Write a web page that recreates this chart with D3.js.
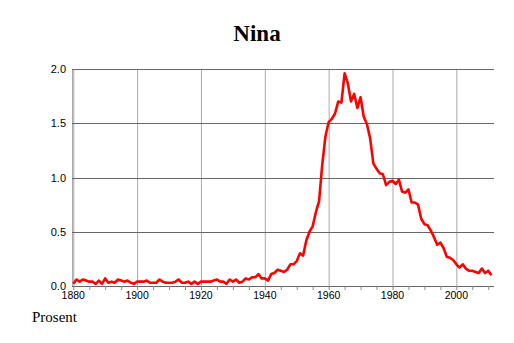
<!DOCTYPE html>
<html><head><meta charset="utf-8">
<script src="https://d3js.org/d3.v7.min.js"></script>
<style>body{margin:0;background:#fff}</style>
</head><body>
<script>
const startYear = 1880;
const values = [
0.02,0.06,0.04,0.06,0.05,0.04,0.04,0.02,0.05,0.02,
0.07,0.03,0.04,0.03,0.06,0.05,0.04,0.05,0.03,0.02,
0.04,0.04,0.04,0.05,0.03,0.03,0.03,0.06,0.04,0.03,
0.03,0.03,0.04,0.06,0.03,0.03,0.04,0.02,0.04,0.02,
0.04,0.04,0.04,0.04,0.05,0.06,0.04,0.04,0.02,0.06,
0.04,0.06,0.03,0.04,0.07,0.06,0.08,0.08,0.11,0.07,
0.07,0.05,0.11,0.12,0.15,0.14,0.13,0.15,0.20,0.20,
0.23,0.30,0.28,0.42,0.50,0.55,0.68,0.78,1.12,1.38,
1.51,1.54,1.59,1.70,1.69,1.96,1.87,1.70,1.77,1.64,
1.74,1.56,1.49,1.36,1.13,1.08,1.04,1.03,0.93,0.96,
0.97,0.94,0.98,0.87,0.86,0.89,0.77,0.77,0.75,0.62,
0.57,0.56,0.51,0.45,0.38,0.40,0.35,0.27,0.26,0.24,
0.20,0.17,0.20,0.16,0.14,0.14,0.13,0.12,0.16,0.12,
0.14,0.10
];
const years = values.map((v,i)=>startYear+i);
const xTicks = [1880,1900,1920,1940,1960,1980,2000];
const xMinor = d3.range(1880, 2015, 5);
const yTicks = [0.0,0.5,1.0,1.5,2.0];
const title = "Nina";
const yLabel = "Prosent";

const W=514,H=343;
const L=72,R=494,T=69,B=286;
const svg=d3.select("body").append("svg").attr("width",W).attr("height",H);
const x=d3.scaleLinear().domain([1879.6,2011.8]).range([L,R]);
const y=d3.scaleLinear().domain([0,2]).range([B,T]);

svg.append("g").selectAll("line").data(xTicks).join("line")
  .attr("x1",d=>x(d)+0.5).attr("x2",d=>x(d)+0.5).attr("y1",T).attr("y2",B)
  .attr("stroke","#aaa").attr("stroke-width",1);
svg.append("line").attr("x1",L+0.5).attr("x2",L+0.5).attr("y1",T).attr("y2",B)
  .attr("stroke","#aaa");
svg.append("g").selectAll("line").data(yTicks).join("line")
  .attr("x1",L).attr("x2",R).attr("y1",d=>Math.round(y(d))+0.5).attr("y2",d=>Math.round(y(d))+0.5)
  .attr("stroke","#666").attr("stroke-width",1);
svg.append("g").selectAll("line").data(xMinor).join("line")
  .attr("x1",d=>x(d)+0.5).attr("x2",d=>x(d)+0.5).attr("y1",B).attr("y2",B+4)
  .attr("stroke","#888");

const line=d3.line().x((d,i)=>x(years[i])).y(d=>y(d));
svg.append("path").datum(values).attr("d",line).attr("fill","none")
  .attr("stroke","#ff0000").attr("stroke-width",2.6).attr("stroke-linejoin","round");

svg.append("g").selectAll("text").data(xTicks).join("text")
  .attr("x",d=>x(d)).attr("y",B+13).attr("text-anchor","middle")
  .attr("font-family","Liberation Sans, Arial, sans-serif").attr("font-size",10.5)
  .text(d=>d);
svg.append("g").selectAll("text").data(yTicks).join("text")
  .attr("x",L-6).attr("y",d=>y(d)+4).attr("text-anchor","end")
  .attr("font-family","Liberation Sans, Arial, sans-serif").attr("font-size",11)
  .text(d=>d.toFixed(1));

svg.append("text").attr("x",257).attr("y",41).attr("text-anchor","middle")
  .attr("font-family","Liberation Serif, Times New Roman, serif").attr("font-weight","bold")
  .attr("font-size",23).text(title);
svg.append("text").attr("x",32).attr("y",322)
  .attr("font-family","Liberation Serif, Times New Roman, serif")
  .attr("font-size",15).text(yLabel);
</script>
</body></html>
